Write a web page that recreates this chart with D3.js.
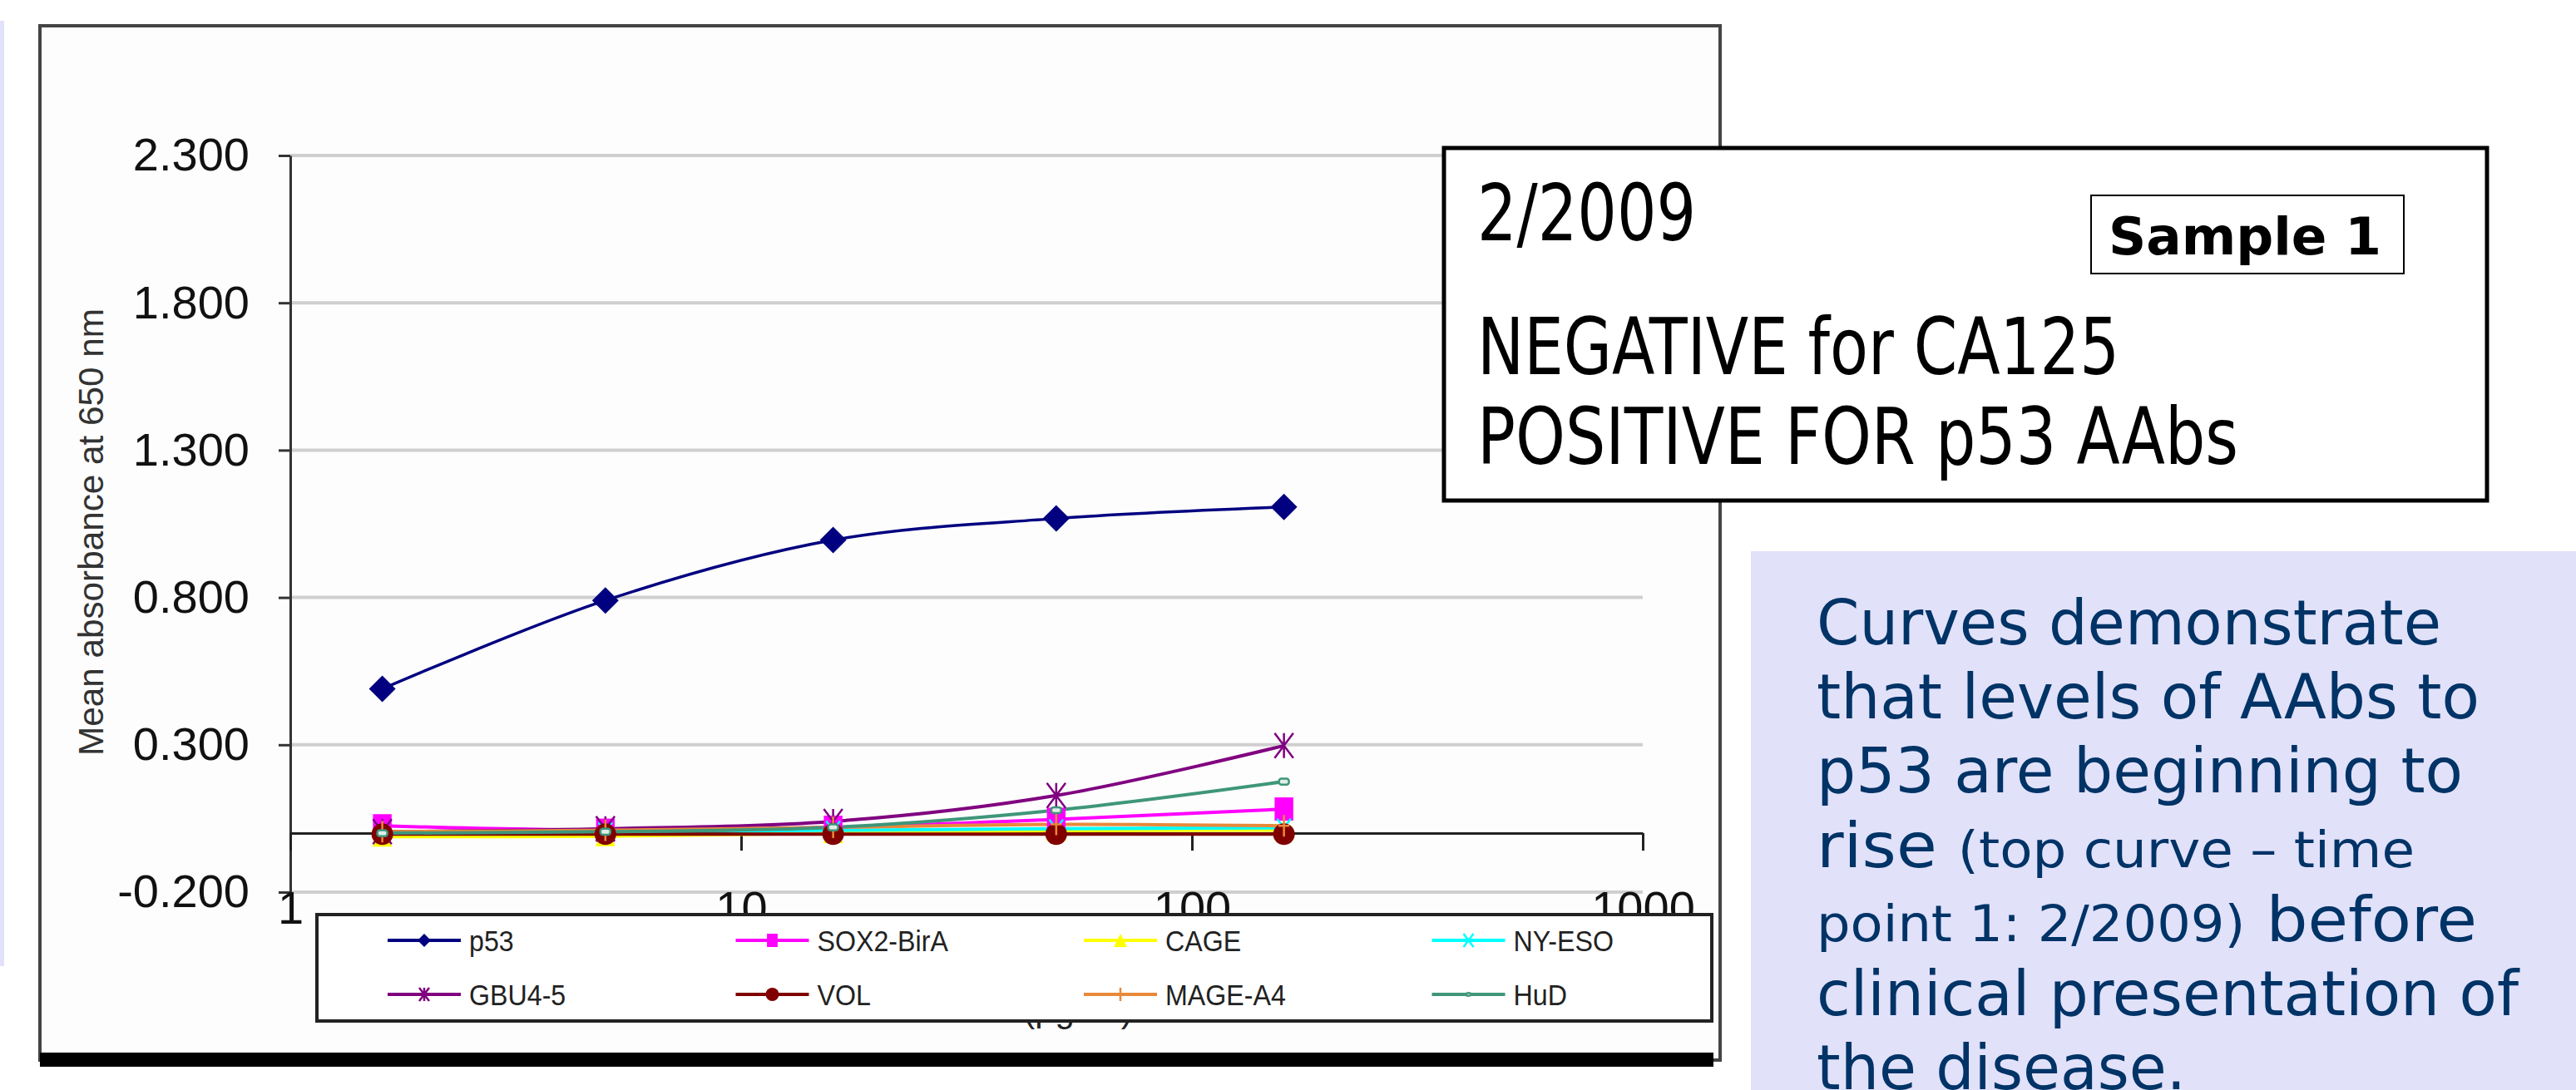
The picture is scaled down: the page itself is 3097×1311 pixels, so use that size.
<!DOCTYPE html>
<html>
<head>
<meta charset="utf-8">
<script src="https://cdn.jsdelivr.net/npm/d3@7"></script>
<style>
  body { margin: 0; background: #fff; }
  svg { display: block; }
</style>
</head>
<body>
<svg id="chart"></svg>
<script>
// data
const concentrations = [1.6, 5, 16, 50, 160];
const seriesNames = ["p53", "SOX2-BirA", "CAGE", "NY-ESO", "GBU4-5", "VOL", "MAGE-A4", "HuD"];
const p53 = [0.49, 0.79, 0.995, 1.068, 1.107];
const sox2 = [0.025, 0.01, 0.02, 0.047, 0.082];
const cage = [-0.012, -0.01, 0.0, 0.008, 0.01];
const nyeso = [0.005, 0.005, 0.01, 0.015, 0.018];
const gbu45 = [0.005, 0.015, 0.04, 0.128, 0.297];
const vol = [-0.003, -0.003, -0.003, -0.003, -0.003];
const mage = [0.005, 0.01, 0.02, 0.03, 0.025];
const hud = [0.0, 0.005, 0.02, 0.078, 0.175];
const yTicks = [-0.2, 0.3, 0.8, 1.3, 1.8, 2.3];
const xTicks = [1, 10, 100, 1000];

const width = 3097, height = 1311;
const svg = d3.select("#chart").attr("width", width).attr("height", height);

const seriesValues = [p53, sox2, cage, nyeso, gbu45, vol, mage, hud];
const colors = ["#000080", "#FF00FF", "#FFFF00", "#00FFFF", "#800080", "#800000", "#E8893A", "#3F967A"];
const markers = ["diamond", "square", "triangle", "x", "star", "circle", "plus", "dash"];

const x = d3.scaleLog().domain([1, 1000]).range([349, 1975]);
const y = d3.scaleLinear().domain([-0.2, 2.3]).range([1073, 187]);

const font = "'Liberation Sans', Arial, sans-serif";

// left lavender strip and chart frame
svg.append("rect").attr("x", 0).attr("y", 25).attr("width", 5).attr("height", 1137).attr("fill", "#E1E1FA");
svg.append("rect").attr("x", 48).attr("y", 31).attr("width", 2020).attr("height", 1244)
  .attr("fill", "#fdfdfd").attr("stroke", "#444").attr("stroke-width", 4);
svg.append("rect").attr("x", 48).attr("y", 1266).attr("width", 2012).attr("height", 17).attr("fill", "#000");

// gridlines
svg.append("g").selectAll("line").data(yTicks).enter().append("line")
  .attr("x1", x(1)).attr("x2", x(1000))
  .attr("y1", d => y(d)).attr("y2", d => y(d))
  .attr("stroke", "#cfcfcf").attr("stroke-width", 4);

// y axis
const yAxis = svg.append("g")
  .attr("transform", `translate(${x(1)},0)`)
  .call(d3.axisLeft(y).tickValues(yTicks).tickFormat(d => d.toFixed(3))
    .tickSize(14).tickPadding(35).tickSizeOuter(0));
yAxis.select(".domain").attr("stroke", "#333").attr("stroke-width", 3);
yAxis.selectAll(".tick line").attr("stroke", "#333").attr("stroke-width", 3);
yAxis.selectAll("text").attr("font-family", font).attr("font-size", 56).attr("fill", "#111");

// x axis crossing at zero, labels sit below the plot
const xAxis = svg.append("g")
  .attr("transform", `translate(0,${y(0)})`)
  .call(d3.axisBottom(x).tickValues(xTicks).tickFormat(d3.format("d"))
    .tickSize(21).tickPadding(48).tickSizeOuter(0));
xAxis.select(".domain").attr("stroke", "#222").attr("stroke-width", 3);
xAxis.selectAll(".tick line").attr("stroke", "#222").attr("stroke-width", 3);
xAxis.selectAll("text").attr("font-family", font).attr("font-size", 56).attr("fill", "#111");

// axis titles
svg.append("text")
  .attr("transform", "translate(124,640) rotate(-90)")
  .attr("text-anchor", "middle")
  .attr("font-family", font).attr("font-size", 42).attr("fill", "#333")
  .attr("textLength", 538).attr("lengthAdjust", "spacingAndGlyphs")
  .text("Mean absorbance at 650 nm");
svg.append("text")
  .attr("x", 1296).attr("y", 1229)
  .attr("text-anchor", "middle")
  .attr("font-family", font).attr("font-size", 42).attr("fill", "#222")
  .text("(μg/ml)");

function drawMarker(g, kind, color, s) {
  const h = s / 2;
  if (kind === "diamond") {
    g.append("path").attr("d", `M0,${-h}L${h},0L0,${h}L${-h},0Z`).attr("fill", color);
  } else if (kind === "square") {
    g.append("rect").attr("x", -h * 0.8).attr("y", -h).attr("width", s * 0.8).attr("height", s).attr("fill", color);
  } else if (kind === "triangle") {
    g.append("path").attr("d", `M0,${-h}L${h},${h}L${-h},${h}Z`).attr("fill", color);
  } else if (kind === "circle") {
    g.append("circle").attr("r", h).attr("fill", color);
  } else if (kind === "x" || kind === "star") {
    const w = h * 0.75;
    g.append("path").attr("d", `M${-w},${-h}L${w},${h}M${w},${-h}L${-w},${h}` + (kind === "star" ? `M0,${-h}L0,${h}` : ""))
      .attr("stroke", color).attr("stroke-width", 2.5).attr("fill", "none");
  } else if (kind === "plus") {
    g.append("path").attr("d", `M0,${-h}L0,${h}M${-h * 0.5},0L${h * 0.5},0`)
      .attr("stroke", color).attr("stroke-width", 2.5);
  } else if (kind === "dash") {
    g.append("rect").attr("x", -h).attr("y", -h * 0.6).attr("width", s).attr("height", s * 0.6)
      .attr("rx", 3).attr("fill", "#dfeee8").attr("stroke", color).attr("stroke-width", 2.5);
  }
}

const markerSize = [32, 28, 24, 22, 30, 26, 26, 12];

// series
const line = d3.line()
  .x((d, i) => x(concentrations[i]))
  .y(d => y(d))
  .curve(d3.curveCatmullRom);

const plot = svg.append("g");
seriesValues.forEach((vals, si) => {
  plot.append("path")
    .datum(vals)
    .attr("fill", "none")
    .attr("stroke", colors[si])
    .attr("stroke-width", si === 0 ? 3.5 : 4)
    .attr("d", line);
});
seriesValues.forEach((vals, si) => {
  vals.forEach((v, i) => {
    const g = plot.append("g").attr("transform", `translate(${x(concentrations[i])},${y(v)})`);
    drawMarker(g, markers[si], colors[si], markerSize[si]);
  });
});

// legend
const legend = svg.append("g");
legend.append("rect").attr("x", 381).attr("y", 1100).attr("width", 1677).attr("height", 128)
  .attr("fill", "#fff").attr("stroke", "#222").attr("stroke-width", 4);
seriesNames.forEach((name, i) => {
  const col = i % 4, row = Math.floor(i / 4);
  const lx = 466 + col * 418.5;
  const ly = 1131 + row * 65;
  const g = legend.append("g").attr("transform", `translate(${lx},${ly})`);
  g.append("line").attr("x1", 0).attr("x2", 88).attr("stroke", colors[i]).attr("stroke-width", 4);
  const m = g.append("g").attr("transform", "translate(44,0)");
  drawMarker(m, markers[i], colors[i], markers[i] === "dash" ? 6 : 16);
  g.append("text").attr("x", 98).attr("dy", "0.36em")
    .attr("font-family", font).attr("font-size", 35).attr("fill", "#222")
    .attr("transform", "scale(0.92,1)")
    .attr("x", 98 / 0.92)
    .text(name);
});

// annotation box
const boxFont = "Tahoma, 'DejaVu Sans Condensed', 'DejaVu Sans', sans-serif";
svg.append("rect").attr("x", 1736).attr("y", 178).attr("width", 1254).attr("height", 424)
  .attr("fill", "#fff").attr("stroke", "#000").attr("stroke-width", 5);
const boxLines = [
  { t: "2/2009", x: 1776, y: 289, len: 263 },
  { t: "NEGATIVE for CA125", x: 1776, y: 450, len: 772 },
  { t: "POSITIVE FOR p53 AAbs", x: 1776, y: 558, len: 915 }
];
boxLines.forEach(l => {
  svg.append("text").attr("x", l.x).attr("y", l.y)
    .attr("font-family", boxFont).attr("font-size", 95).attr("fill", "#000")
    .attr("textLength", l.len).attr("lengthAdjust", "spacingAndGlyphs")
    .text(l.t);
});
svg.append("rect").attr("x", 2514).attr("y", 235).attr("width", 376).attr("height", 94)
  .attr("fill", "#fff").attr("stroke", "#000").attr("stroke-width", 2);
svg.append("text").attr("x", 2535).attr("y", 306)
  .attr("font-family", boxFont).attr("font-size", 63).attr("font-weight", "bold").attr("fill", "#000")
  .attr("textLength", 328).attr("lengthAdjust", "spacingAndGlyphs")
  .text("Sample 1");

// note panel
svg.append("rect").attr("x", 2105).attr("y", 663).attr("width", 992).attr("height", 648).attr("fill", "#E1E1FA");
const noteLines = [
  { parts: [["Curves demonstrate", 74]], len: 751 },
  { parts: [["that levels of AAbs to", 74]], len: 797 },
  { parts: [["p53 are beginning to", 74]], len: 777 },
  { parts: [["rise ", 74], ["(top curve – time", 60]], len: 719 },
  { parts: [["point 1: 2/2009)", 60], [" before", 74]], len: 794 },
  { parts: [["clinical presentation of", 74]], len: 844 },
  { parts: [["the disease.", 74]], len: 444 }
];
noteLines.forEach((l, i) => {
  const t = svg.append("text").attr("x", 2184).attr("y", 775 + i * 89.2)
    .attr("font-family", "'DejaVu Sans', Verdana, sans-serif").attr("fill", "#003366")
    .attr("textLength", l.len).attr("lengthAdjust", "spacingAndGlyphs")
    .attr("xml:space", "preserve").style("white-space", "pre");
  l.parts.forEach(p => t.append("tspan").attr("font-size", p[1]).text(p[0]));
});
</script>
</body>
</html>
